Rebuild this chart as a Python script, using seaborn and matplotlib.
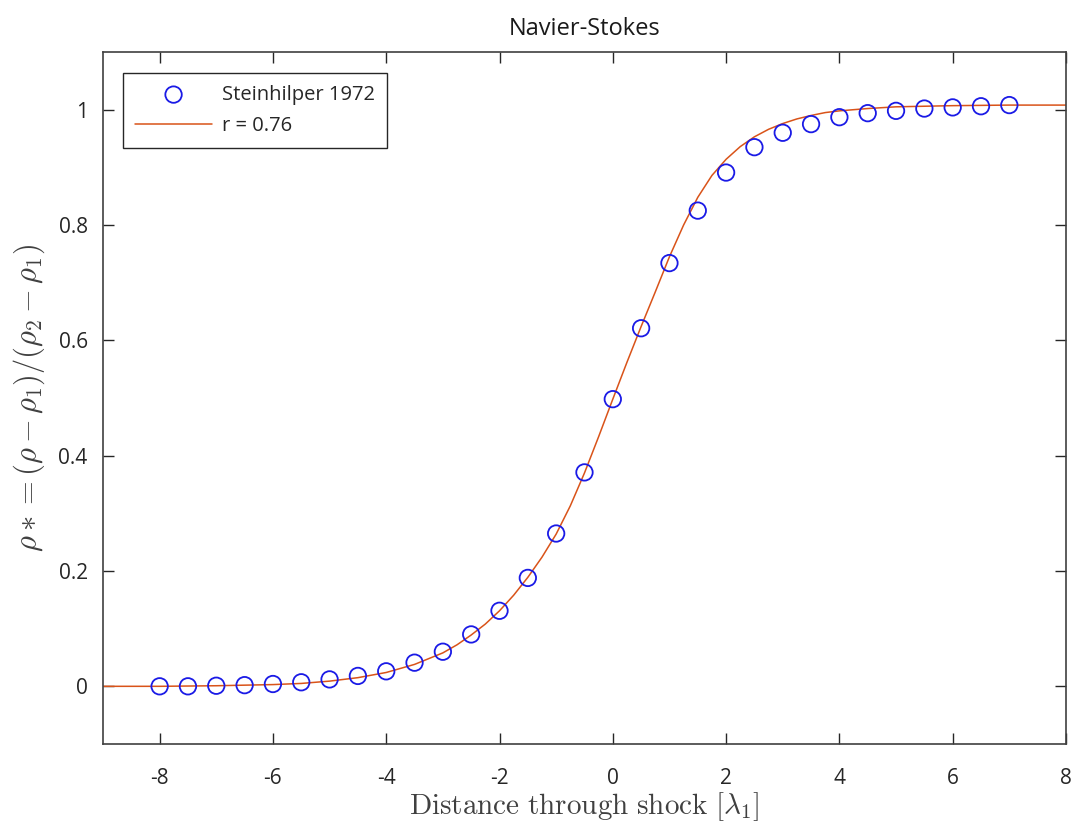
import matplotlib
matplotlib.use("Agg")
import matplotlib.pyplot as plt
import seaborn as sns
import pandas as pd

# Measured data (Steinhilper 1972)
data_x = [-8, -7.5, -7, -6.5, -6, -5.5, -5, -4.5, -4, -3.5, -3, -2.5, -2, -1.5,
          -1, -0.5, 0, 0.5, 1, 1.5, 2, 2.5, 3, 3.5, 4, 4.5, 5, 5.5, 6, 6.5, 7]
data_y = [0.000, 0.000, 0.001, 0.002, 0.004, 0.007, 0.012, 0.018, 0.026, 0.041,
          0.060, 0.090, 0.131, 0.188, 0.265, 0.371, 0.498, 0.621, 0.734, 0.825,
          0.891, 0.935, 0.960, 0.975, 0.987, 0.994, 0.998, 1.002, 1.004, 1.006, 1.008]

# Model curve (r = 0.76)
curve_x = [-9, -8, -7, -6, -5.5, -5, -4.5, -4, -3.5, -3, -2.75, -2.5, -2.25, -2,
           -1.75, -1.5, -1.25, -1, -0.75, -0.5, -0.25, 0, 0.25, 0.5, 0.75, 1,
           1.25, 1.5, 1.75, 2, 2.25, 2.5, 2.75, 3, 3.25, 3.5, 3.75, 4, 4.5, 5,
           6, 7, 8]
curve_y = [0.000, 0.000, 0.001, 0.003, 0.005, 0.009, 0.015, 0.024, 0.038, 0.058,
           0.072, 0.089, 0.108, 0.131, 0.158, 0.189, 0.224, 0.264, 0.313, 0.370,
           0.433, 0.498, 0.562, 0.624, 0.684, 0.745, 0.800, 0.848, 0.886, 0.914,
           0.936, 0.953, 0.966, 0.976, 0.984, 0.990, 0.995, 0.998, 1.002, 1.005,
           1.007, 1.008, 1.008]

x_ticks = [-8, -6, -4, -2, 0, 2, 4, 6, 8]
y_ticks = [0, 0.2, 0.4, 0.6, 0.8, 1]

sns.set_theme(style="white")
plt.rcParams["font.family"] = ["Open Sans", "DejaVu Sans"]
plt.rcParams["mathtext.fontset"] = "cm"

fig = plt.figure(figsize=(10.75, 8.26), dpi=100)
ax = fig.add_axes([0.0958, 0.0993, 0.8958, 0.8377])

df_curve = pd.DataFrame({"x": curve_x, "y": curve_y})
df_data = pd.DataFrame({"x": data_x, "y": data_y})

sns.lineplot(data=df_curve, x="x", y="y", ax=ax, color="#D95319", linewidth=1.1,
             sort=False, estimator=None, label="r = 0.76")
sns.scatterplot(data=df_data, x="x", y="y", ax=ax, marker="o", s=140,
                facecolor="none", edgecolor="#1a1aE6", linewidth=1.3,
                label="Steinhilper 1972", zorder=3)

ax.set_xlim(-9, 8)
ax.set_ylim(-0.1, 1.1)
ax.set_xticks(x_ticks)
ax.set_xticklabels([str(t) for t in x_ticks])
ax.set_yticks(y_ticks)
ax.set_yticklabels(["0", "0.2", "0.4", "0.6", "0.8", "1"])

ax.tick_params(axis="both", which="both", direction="in", length=8, width=1,
               colors="#262626", labelsize=15, top=True, right=True,
               bottom=True, left=True)
ax.tick_params(axis="x", pad=17)
ax.tick_params(axis="y", pad=11)
for sp in ax.spines.values():
    sp.set_visible(True)
    sp.set_color("#404040")
    sp.set_linewidth(1.2)

ax.set_title("Navier-Stokes", fontsize=17, color="#1a1a1a", pad=12)
ax.set_xlabel(r"$\mathrm{Distance\ through\ shock}\ [\lambda_1]$", fontsize=21,
              color="#404040", labelpad=1)
ax.set_ylabel(r"$\rho * = (\rho - \rho_1)/(\rho_2 - \rho_1)$", fontsize=22,
              color="#404040", labelpad=8)

handles, labels = ax.get_legend_handles_labels()
order = [labels.index("Steinhilper 1972"), labels.index("r = 0.76")]
leg = ax.legend([handles[i] for i in order], [labels[i] for i in order],
                loc="upper left", bbox_to_anchor=(0.021, 0.97), fontsize=14.5,
                frameon=True, fancybox=False, edgecolor="#262626",
                framealpha=1, handlelength=3.8, borderpad=0.6,
                labelspacing=0.55, handletextpad=0.5, borderaxespad=0)
leg.get_frame().set_linewidth(1.0)

fig.savefig("out.png", dpi=100)
